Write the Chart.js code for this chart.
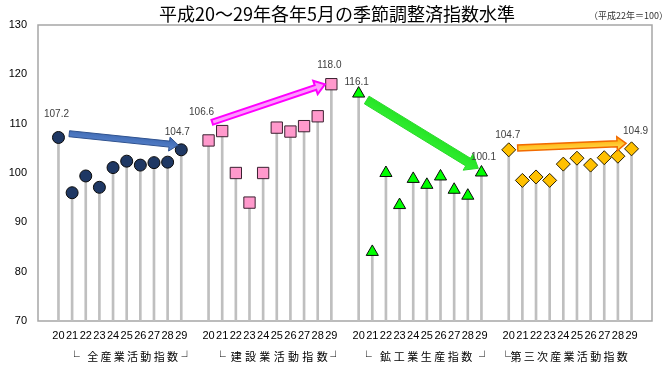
<!DOCTYPE html>
<html><head><meta charset="utf-8">
<script src="https://cdn.jsdelivr.net/npm/chart.js@4.4.0/dist/chart.umd.min.js"></script>
<style>
html,body{margin:0;padding:0;background:#fff;}
#wrap{position:relative;width:670px;height:366px;overflow:hidden;}
canvas{position:absolute;left:0;top:0;}
#title{position:absolute;left:0;width:674px;top:1px;text-align:center;font:18px "Noto Sans CJK JP";color:#000;line-height:24px;white-space:nowrap;}
#note{position:absolute;right:2px;top:10px;font:9px "Noto Sans CJK JP";color:#333;line-height:12px;white-space:nowrap;}
</style></head><body>
<div id="wrap">
<canvas id="c" width="670" height="366"></canvas>
<div id="title">平成20～29年各年5月の季節調整済指数水準</div>
<div id="note">（平成22年＝100）</div>
</div>
<script>
// ---- data ----
const years = ['20','21','22','23','24','25','26','27','28','29'];
const groupNames = ['全産業活動指数', '建設業活動指数', '鉱工業生産指数', '第三次産業活動指数'];
const allIndustry  = [107.2, 96.0, 99.4, 97.1, 101.1, 102.4, 101.6, 102.1, 102.2, 104.7];
const construction = [106.6, 108.5, 100.0, 94.0, 100.0, 109.2, 108.4, 109.5, 111.5, 118.0];
const mining       = [116.1, 84.0, 100.0, 93.5, 98.8, 97.6, 99.3, 96.6, 95.4, 100.1];
const tertiary     = [104.7, 98.5, 99.2, 98.5, 101.8, 103.0, 101.6, 103.1, 103.4, 104.9];
const yTicks = [70, 80, 90, 100, 110, 120, 130];

// ---- layout of the bracketed group captions (in category-slot units) ----
const captionLayout = [
  {open: 1.6,  first: 3.0,   step: 1.0,  close: 10.1},
  {open: 12.6, first: 13.8,  step: 1.08, close: 21.3},
  {open: 23.6, first: 25.06, step: 1.02, close: 32.5},
  {open: 34.1, first: 34.88, step: 1.0,  close: null}
];

// ---- build category layout: blank slot, 10 years, blank, ... ----
const series = [allIndustry, construction, mining, tertiary];
const labels = [''];
series.forEach(() => { years.forEach(y => labels.push(y)); labels.push(''); });
const N = labels.length;
function place(g, vals) {
  const a = new Array(N).fill(null);
  vals.forEach((v, i) => { a[1 + g * (years.length + 1) + i] = v; });
  return a;
}
const dropData = new Array(N).fill(null);
series.forEach((s, g) => place(g, s).forEach((v, i) => { if (v !== null) dropData[i] = v; }));

const captionTicks = [];
groupNames.forEach((name, g) => {
  const L = captionLayout[g];
  captionTicks.push({value: L.open, text: '└'});
  [...name].forEach((ch, k) => captionTicks.push({value: L.first + k * L.step, text: ch}));
  if (L.close !== null) captionTicks.push({value: L.close, text: '┘'});
});

// ---- annotation arrows in data space (index, value) ----
const arrows = [
  {from:[1.79,107.96], to:[9.78,105.67], sw:6, hw:14, hl:9, fill:['#5A86D0','#3A64AC'], stroke:'#2F528F', lw:1},
  {from:[12.27,110.28], to:[20.53,117.98], sw:5, hw:14, hl:10, fill:['#FFA8FF','#FF88FF'], stroke:'#FF00FF', lw:2},
  {from:[23.59,114.8], to:[31.77,100.95], sw:9, hw:19, hl:12, fill:['#33F033','#22E022'], stroke:'#2BD82B', lw:1},
  {from:[34.66,105.07], to:[42.6,106.02], sw:6, hw:14, hl:9, fill:['#FFE45A','#FFA800'], stroke:'#F26B00', lw:1.5}
];
const labelOffsets = [
  [[-2,-23],[-4,-18]],
  [[-7,-28],[-2,-19]],
  [[-2,-11],[2,-15]],
  [[-1,-15],[4,-18]]
];

const boxPlugin = {
  id: 'box',
  beforeDatasetsDraw(chart) {
    const {ctx, chartArea: a} = chart;
    ctx.save();
    ctx.strokeStyle = '#A6A6A6';
    ctx.lineWidth = 1.5;
    ctx.strokeRect(a.left, a.top, a.right - a.left, a.bottom - a.top);
    ctx.restore();
  }
};
const arrowPlugin = {
  id: 'arrows',
  afterDatasetsDraw(chart) {
    const {ctx, scales: {x, y}} = chart;
    const px = i => x.left + (i + 0.5) * (x.right - x.left) / N;
    arrows.forEach(a => {
      const x0 = px(a.from[0]), y0 = y.getPixelForValue(a.from[1]);
      const x1 = px(a.to[0]), y1 = y.getPixelForValue(a.to[1]);
      const dx = x1 - x0, dy = y1 - y0, L = Math.hypot(dx, dy);
      const ux = dx / L, uy = dy / L, nx = -uy, ny = ux;
      const bx = x1 - ux * a.hl, by = y1 - uy * a.hl;
      const s = a.sw / 2, h = a.hw / 2;
      ctx.save();
      ctx.beginPath();
      ctx.moveTo(x0 + nx * s, y0 + ny * s);
      ctx.lineTo(bx + nx * s, by + ny * s);
      ctx.lineTo(bx + nx * h, by + ny * h);
      ctx.lineTo(x1, y1);
      ctx.lineTo(bx - nx * h, by - ny * h);
      ctx.lineTo(bx - nx * s, by - ny * s);
      ctx.lineTo(x0 - nx * s, y0 - ny * s);
      ctx.closePath();
      const g = ctx.createLinearGradient(x0 - nx * h, y0 - ny * h, x0 + nx * h, y0 + ny * h);
      g.addColorStop(0, a.fill[1]); g.addColorStop(1, a.fill[0]);
      ctx.fillStyle = g;
      ctx.fill();
      ctx.lineJoin = 'miter';
      ctx.strokeStyle = a.stroke;
      ctx.lineWidth = a.lw;
      ctx.stroke();
      ctx.restore();
    });
  }
};
const valueLabelPlugin = {
  id: 'vlabels',
  afterDatasetsDraw(chart) {
    const {ctx} = chart;
    ctx.save();
    ctx.font = '10px "Liberation Sans"';
    ctx.fillStyle = '#404040';
    ctx.textAlign = 'center';
    ctx.textBaseline = 'middle';
    for (let d = 1; d <= series.length; d++) {
      const meta = chart.getDatasetMeta(d);
      const data = chart.data.datasets[d].data;
      const idx = [];
      data.forEach((v, i) => { if (v !== null) idx.push(i); });
      [idx[0], idx[idx.length - 1]].forEach((i, k) => {
        const el = meta.data[i];
        const off = labelOffsets[d - 1][k];
        ctx.fillText(data[i].toFixed(1), el.x + off[0], el.y + off[1]);
      });
    }
    ctx.restore();
  }
};

const styles = [
  {style:'circle', r:6, bg:'#1F3864', bc:'#0A0A0A'},
  {style:'rect', r:8, bg:'#FF99CC', bc:'#3A2030'},
  {style:'triangle', r:7, bg:'#00FF00', bc:'#0A0A0A'},
  {style:'rectRot', r:7, bg:'#FFC000', bc:'#2A2000'}
];

const datasets = [{
  type: 'bar', data: dropData, backgroundColor: '#BFBFBF', barThickness: 2, order: 10
}];
series.forEach((s, g) => datasets.push({
  type: 'line', data: place(g, s), showLine: false, order: 1,
  pointStyle: styles[g].style, pointRadius: styles[g].r, pointHoverRadius: styles[g].r,
  pointBackgroundColor: styles[g].bg, pointBorderColor: styles[g].bc, pointBorderWidth: 1
}));

new Chart(document.getElementById('c'), {
  type: 'bar',
  data: {labels, datasets},
  options: {
    responsive: false, animation: false, devicePixelRatio: 1,
    layout: {padding: {top: 25, right: 18, left: 0, bottom: 0}},
    plugins: {legend: {display: false}, tooltip: {enabled: false}},
    scales: {
      x: {
        type: 'category', offset: true, weight: 0,
        grid: {display: false, drawTicks: false}, border: {display: false},
        ticks: {autoSkip: false, maxRotation: 0, padding: 8, color: '#000', font: {family: 'Liberation Sans', size: 11}},
        afterFit(s) { s.height = 24; }
      },
      x2: {
        type: 'linear', position: 'bottom', weight: 1, min: -0.5, max: N - 0.5,
        grid: {display: false, drawTicks: false}, border: {display: false},
        afterBuildTicks(s) { s.ticks = captionTicks.map(t => ({value: t.value})); },
        ticks: {autoSkip: false, maxRotation: 0, padding: 5, color: '#000',
          font: {family: 'Noto Sans CJK JP', size: 11},
          callback(v, i) { return captionTicks[i] ? captionTicks[i].text : ''; }},
        afterFit(s) { s.height = 21; }
      },
      y: {
        min: yTicks[0], max: yTicks[yTicks.length - 1],
        grid: {display: false, drawTicks: false}, border: {display: false},
        afterBuildTicks(s) { s.ticks = yTicks.map(v => ({value: v})); },
        ticks: {padding: 11, color: '#000', font: {family: 'Liberation Sans', size: 11}},
        afterFit(s) { s.width = 38; }
      }
    }
  },
  plugins: [boxPlugin, arrowPlugin, valueLabelPlugin]
});
</script>
</body></html>
